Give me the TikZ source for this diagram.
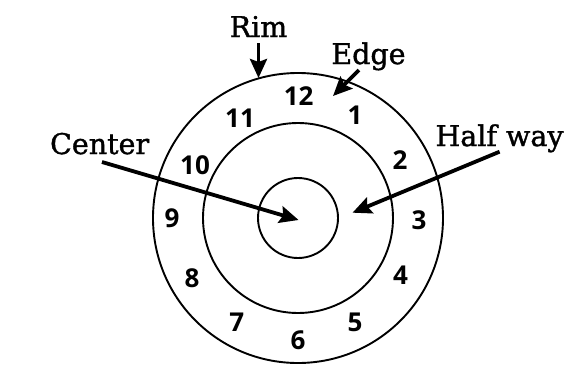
\documentclass[tikz,border=0pt]{standalone}
\usepackage{fontspec}
\setmainfont{DejaVu Serif}
\newfontfamily\lblfont[FakeBold=1.3]{DejaVu Serif}
\newfontfamily\numfont{Open Sans}
\usetikzlibrary{arrows.meta}
\begin{document}
\begin{tikzpicture}[x=1pt,y=-1pt,
  ring/.style={draw, line width=1.9pt},
  num/.style={font=\numfont\bfseries\fontsize{26}{26}\selectfont, inner sep=0pt, anchor=center},
  lbl/.style={font=\lblfont\fontsize{28.5}{28.5}\selectfont, inner sep=0pt, anchor=base},
  pointer/.style={line width=3.8pt, -{Stealth[length=19pt,width=17pt,inset=3pt]}}]
\useasboundingbox (0,0) rectangle (571,365);
\coordinate (c) at (298,218);
\draw[ring] (c) circle[radius=145pt];
\draw[ring] (c) circle[radius=95pt];
\draw[ring] (c) circle[radius=40pt];
% numbers
\node[num] (n12) at (298.6,96.5) {12};
\node[num] (n1) at (355,115) {1};
\node[num] (n2) at (400,160) {2};
\node[num] (n3) at (419,220) {3};
\node[num] (n4) at (400.6,275) {4};
\node[num] (n5) at (355,322) {5};
\node[num] (n6) at (298,340) {6};
\node[num] (n7) at (236.7,322) {7};
\node[num] (n8) at (192,278) {8};
\node[num] (n9) at (172,218) {9};
\node[num] (n10) at (195,165) {10};
\node[num] (n11) at (240,118) {11};
% labels
\node[lbl] (rim) at (258.5,37) {Rim};
\node[lbl] (edge) at (368.5,64) {Edge};
\node[lbl] (center) at (99.6,154) {Center};
\node[lbl] (half) at (499.5,146) {Half way};
% arrow end points
\coordinate (rimA) at (258.5,43);
\coordinate (rimB) at (258.5,78);
\coordinate (edgeA) at (359,70);
\coordinate (edgeB) at (333,96);
\coordinate (centerA) at (102,162);
\coordinate (centerB) at (298.6,220);
\coordinate (halfA) at (499.6,151.7);
\coordinate (halfB) at (352.5,212.7);
\draw[pointer] (rimA) -- (rimB);
\draw[pointer] (edgeA) -- (edgeB);
\draw[pointer] (centerA) -- (centerB);
\draw[pointer] (halfA) -- (halfB);
\end{tikzpicture}
\end{document}
